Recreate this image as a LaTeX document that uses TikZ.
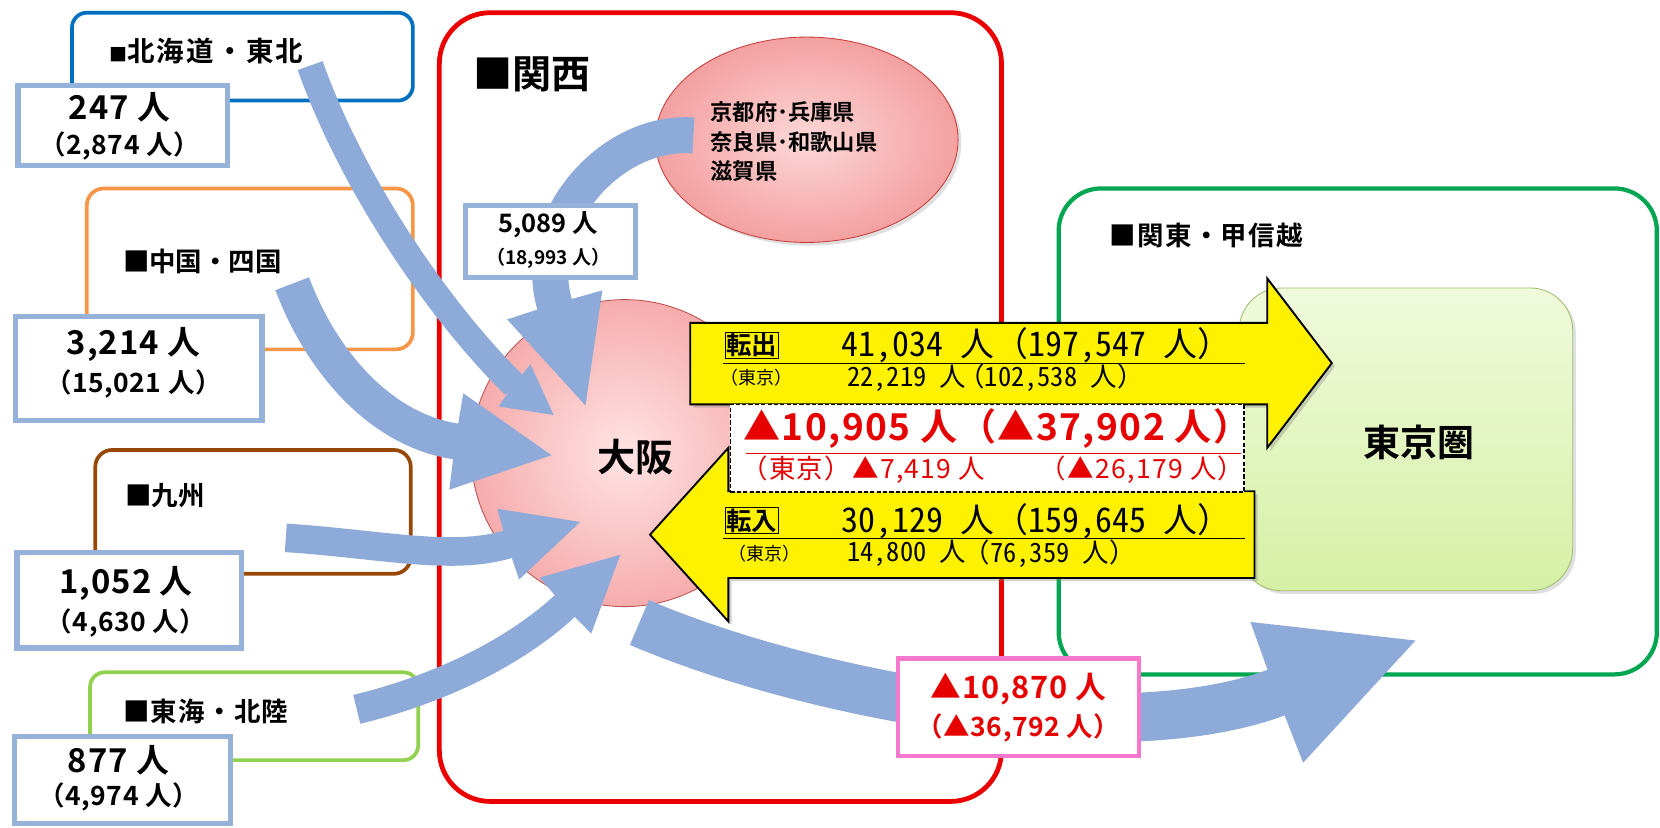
\documentclass[tikz,border=0pt]{standalone}
\usepackage{fontspec}
\setmainfont{Noto Sans CJK JP}[BoldFont={Noto Sans CJK JP Bold}]
\newfontfamily\hw{Noto Sans CJK JP}[RawFeature=+hwid]
\newfontfamily\jpr{Noto Sans CJK JP}
\newcommand\LP{{\jpr（}}
\newcommand\RP{{\jpr）}}
\usetikzlibrary{calc,shadows,shapes.geometric}
\definecolor{flowblue}{RGB}{142,170,216}
\definecolor{numblue}{RGB}{150,178,216}
\definecolor{hkblue}{RGB}{0,112,192}
\definecolor{csorange}{RGB}{247,150,70}
\definecolor{kybrown}{RGB}{151,72,7}
\definecolor{thgreen}{RGB}{146,208,80}
\definecolor{kgreen}{RGB}{0,166,81}
\definecolor{ksred}{RGB}{235,0,0}
\definecolor{pinkbox}{RGB}{245,120,205}
\definecolor{txtred}{RGB}{230,0,0}
\definecolor{elpink}{RGB}{244,160,160}
\definecolor{elpinkin}{RGB}{252,215,215}
\definecolor{tkgreen}{RGB}{214,240,165}
\definecolor{tkgreenin}{RGB}{240,250,220}
\newcommand{\fs}[1]{\fontsize{#1}{#1}\selectfont}
\newcommand{\ls}[1]{\addfontfeatures{LetterSpace=#1}}
\newcommand{\fatarrow}[6]{%
  \draw[flowblue, line width=#1] #2;
  \fill[flowblue] ($(#3)!#5!90:(#4)$) -- (#4) -- ($(#3)!#5!-90:(#4)$) -- ($(#3)!#6!180:(#4)$) -- cycle;
}
\begin{document}
\begin{tikzpicture}[x=1pt,y=-1pt,
  numbox/.style={draw=numblue, line width=5pt, fill=white},
  rlabel/.style={anchor=west, font=\fs{25}\bfseries, inner sep=0pt},
  bignum/.style={font=\fs{31}\bfseries\ls{3}, inner sep=0pt},
  smallnum/.style={font=\fs{25}\bfseries\ls{2}, inner sep=0pt},
  yarrow/.style={fill=yellow, draw=black, line width=1.8pt, line join=miter,
     drop shadow={opacity=0.35, shadow xshift=3pt, shadow yshift=-3pt}},
  ytext/.style={inner sep=0pt, anchor=west},
]
\useasboundingbox (0,0) rectangle (1568,782);
\fill[white] (0,0) rectangle (1568,782);

% ---- big frames
\draw[ksred, line width=4.5pt, rounded corners=48pt] (415,12) rectangle (946,757);
\node[anchor=west, font=\fs{37}\bfseries, inner sep=0pt] (ksL) at (447,70) {■関西};
\draw[kgreen, line width=4pt, rounded corners=40pt] (1000,178) rectangle (1565,637);
\node[rlabel, font=\fs{25}\bfseries\ls{5}] (kgL) at (1048,222) {■関東・甲信越};

% ---- regions
\draw[hkblue, line width=3.5pt, rounded corners=14pt] (68,12) rectangle (390,95);
\draw[csorange, line width=3.5pt, rounded corners=16pt] (82,178) rectangle (390,330);
\draw[kybrown, line width=3.5pt, rounded corners=16pt] (90,425) rectangle (388,542);
\draw[thgreen, line width=3.5pt, rounded corners=14pt] (85,635) rectangle (395,718);
\node[rlabel, font=\fs{26}\bfseries\ls{8}] (hkL) at (103,48) {{\fs{17}■}北海道・東北};
\node[rlabel] (csL) at (116,247) {■中国・四国};
\node[rlabel] (kyL) at (118,468) {■九州};
\node[rlabel, font=\fs{25}\bfseries\ls{5}] (thL) at (116,672) {■東海・北陸};

% ---- ellipse, Osaka, Tokyo
\node[ellipse, minimum width=286pt, minimum height=194pt, draw={rgb,255:red,200;green,60;blue,60}, line width=0.8pt,
   inner color=elpinkin, outer color=elpink,
   drop shadow={opacity=0.25, shadow xshift=3pt, shadow yshift=-3pt}] (ell) at (762,132) {};
\node[anchor=west, align=left, font=\fs{21}\bfseries, inner sep=0pt] (ellT) at (671,134)
   {京都府･兵庫県\\[7pt]奈良県･和歌山県\\[7pt]滋賀県};
\node[circle, minimum size=290pt, draw={rgb,255:red,190;green,80;blue,80}, line width=0.8pt,
   inner color={rgb,255:red,255;green,228;blue,228}, outer color={rgb,255:red,246;green,172;blue,172}] (osaka) at (590,428) {};
\node[font=\fs{36}\bfseries, inner sep=0pt] (osakaT) at (600,432) {大阪};
\node[draw={rgb,255:red,160;green,190;blue,110}, line width=0.8pt, rounded corners=40pt,
   minimum width=315pt, minimum height=286pt, top color=tkgreenin, bottom color=tkgreen,
   drop shadow={opacity=0.25, shadow xshift=3pt, shadow yshift=-3pt}] (tokyo) at (1328,415) {};
\node[font=\fs{35}\bfseries, inner sep=0pt] (tokyoT) at (1340,418) {東京圏};

% ---- blue flow arrows
\coordinate (hkA) at (293,62);   \coordinate (hkB) at (486,364); \coordinate (hkC) at (523,392);
\coordinate (csA) at (276,268);  \coordinate (csB) at (431,417); \coordinate (csC) at (521,430);
\coordinate (kyA) at (270,508);  \coordinate (kyB) at (480,514); \coordinate (kyC) at (548,493);
\coordinate (thA) at (337,670);  \coordinate (thB) at (534,572); \coordinate (thC) at (586,524);
\coordinate (ksA) at (655,128);  \coordinate (ksB) at (524,288); \coordinate (ksC) at (553,383);
\coordinate (bgA) at (604,588);  \coordinate (bgB) at (1206,654); \coordinate (bgC) at (1337,605);
\fatarrow{25pt}{(hkA) .. controls (335,180) and (420,300) .. (hkB)}{hkB}{hkC}{25pt}{1pt}
\fatarrow{34pt}{(csA) .. controls (305,345) and (362,407) .. (csB)}{csB}{csC}{46pt}{1pt}
\fatarrow{27pt}{(kyA) .. controls (360,514) and (427,530) .. (kyB)}{kyB}{kyC}{35pt}{1pt}
\fatarrow{28pt}{(thA) .. controls (420,650) and (490,613) .. (thB)}{thB}{thC}{36pt}{1pt}
\fatarrow{34pt}{(ksA) .. controls (575,122) and (501,211) .. (ksB)}{ksB}{ksC}{47pt}{1pt}
\fatarrow{46pt}{(bgA) .. controls (760,655) and (1050,712) .. (bgB)}{bgB}{bgC}{71pt}{1pt}

% ---- number boxes
\node[numbox, minimum width=198pt, minimum height=76pt] (hkN) at (116,118.5) {};
\node[bignum] at (113,101) {247 人};
\node[smallnum] at (113,138) {（2,874 人）};
\node[numbox, minimum width=233pt, minimum height=98pt] (csN) at (131,348) {};
\node[bignum] at (126,325) {3,214 人};
\node[smallnum] at (126,363) {（15,021 人）};
\node[numbox, minimum width=212pt, minimum height=90pt] (kyN) at (122,567) {};
\node[bignum] at (119,551) {1,052 人};
\node[smallnum] at (119,588) {（4,630 人）};
\node[numbox, minimum width=204pt, minimum height=82pt] (thN) at (116,737) {};
\node[bignum] at (112,718) {877 人};
\node[smallnum] at (112,753) {（4,974 人）};
\node[numbox, minimum width=160pt, minimum height=68pt] (ksN) at (520,228) {};
\node[font=\fs{24}\bfseries, inner sep=0pt] at (518,212) {5,089 人};
\node[font=\fs{18}\bfseries, inner sep=0pt] at (518,244) {（18,993 人）};

% ---- yellow arrows
\draw[yarrow] (652,305) -- (1197,305) -- (1197,263) -- (1258,343) -- (1197,423) -- (1197,382) -- (652,382) -- cycle;
\draw[yarrow] (1185,464) -- (688,464) -- (688,423) -- (614,505) -- (688,587) -- (688,546) -- (1185,546) -- cycle;
\node[draw=black, dash pattern=on 4pt off 2pt, line width=1.5pt, fill=white, minimum width=485pt, minimum height=83pt] (net) at (932.5,423.5) {};

% outflow text
\node[draw=black, line width=0.8pt, inner sep=1pt, font=\fs{24}\bfseries] (outL) at (710,326) {転出};
\node[ytext, font=\hw\fs{32}] (outN) at (795,326) {41,034 人\LP 197,547 人\RP};
\draw[black, line width=0.8pt] (683,343) -- (1176,343);
\node[ytext, font=\fs{17}] (outT) at (680,357) {（東京）};
\node[ytext, font=\hw\fs{25}] (outT1) at (800,357) {22,219 人};
\node[ytext, font=\hw\fs{25}] (outT2) at (905,357) {\LP 102,538 人\RP};

% net text
\node[ytext, font=\fs{35}\bfseries\ls{4}, text=txtred] (netN) at (702,405) {▲10,905 人（▲37,902 人）};
\draw[txtred, line width=0.8pt] (705,428) -- (1172,428);
\node[ytext, font=\fs{25}\ls{5}, text=txtred] (netT1) at (700,444) {（東京）▲7,419 人};
\node[ytext, font=\fs{25}\ls{5}, text=txtred] (netT2) at (982,444) {（▲26,179 人）};

% inflow text
\node[draw=black, line width=0.8pt, inner sep=1pt, font=\fs{24}\bfseries] (inL) at (710,492) {転入};
\node[ytext, font=\hw\fs{32}] (inN) at (795,492) {30,129 人\LP 159,645 人\RP};
\draw[black, line width=0.8pt] (683,509) -- (1176,509);
\node[ytext, font=\fs{17}] (inT) at (688,523) {（東京）};
\node[ytext, font=\hw\fs{25}] (inT1) at (800,523) {14,800 人};
\node[ytext, font=\hw\fs{25}] (inT2) at (910,523) {\LP 76,359 人\RP};

% ---- pink net box
\node[draw=pinkbox, line width=4pt, fill=white, minimum width=228pt, minimum height=92pt] (pk) at (962,668) {};
\node[font=\fs{29}\bfseries\ls{3}, text=txtred, inner sep=0pt] at (962,651) {▲10,870 人};
\node[font=\fs{25}\bfseries\ls{2}, text=txtred, inner sep=0pt] at (962,688) {（▲36,792 人）};
\end{tikzpicture}
\end{document}
